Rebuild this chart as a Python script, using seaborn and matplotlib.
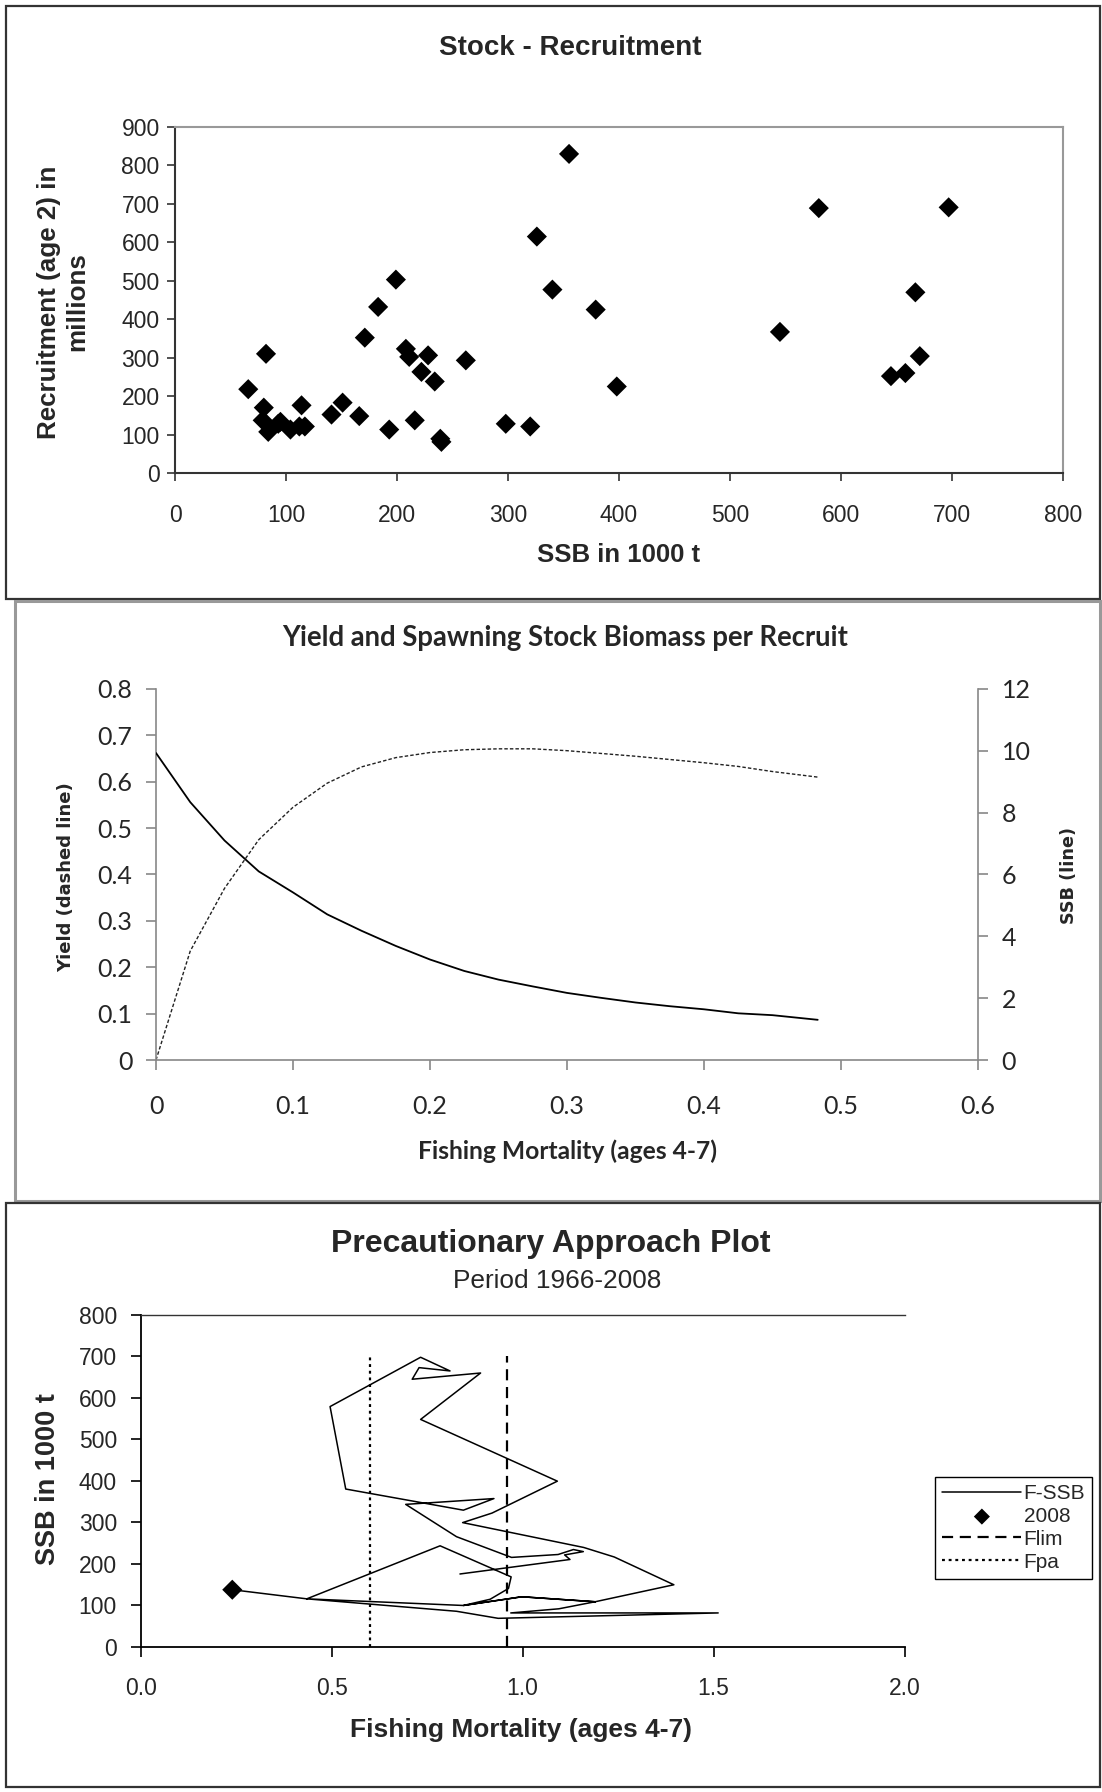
import matplotlib
matplotlib.use("Agg")
import matplotlib.pyplot as plt
import pandas as pd
import seaborn as sns
from matplotlib.patches import Rectangle

# Stock - Recruitment (SSB in 1000 t, recruitment age 2 in millions)
SR_SSB = [66, 82, 80, 79, 84, 93, 95, 104, 114, 112, 117, 141, 151, 166, 171,
          183, 193, 199, 208, 211, 216, 222, 228, 234, 239, 240, 262, 298, 320,
          326, 340, 355, 379, 398, 545, 580, 645, 658, 667, 671, 697]
SR_REC = [218, 310, 170, 137, 107, 128, 133, 113, 176, 121, 121, 152, 183, 148,
          352, 432, 113, 503, 323, 302, 137, 263, 306, 238, 89, 81, 293, 128,
          121, 615, 477, 830, 425, 225, 367, 689, 252, 260, 470, 304, 691]

# Yield and SSB per recruit
YPR_F = [0, 0.025, 0.05, 0.075, 0.1, 0.125, 0.15, 0.175, 0.2, 0.225, 0.25,
         0.275, 0.3, 0.325, 0.35, 0.375, 0.4, 0.425, 0.45, 0.483]
YPR_YIELD = [0, 0.235, 0.37, 0.475, 0.545, 0.597, 0.632, 0.652, 0.663, 0.669,
             0.671, 0.671, 0.667, 0.661, 0.655, 0.648, 0.641, 0.633, 0.622, 0.61]
YPR_SSB = [9.93, 8.34, 7.1, 6.1, 5.42, 4.71, 4.18, 3.69, 3.25, 2.88, 2.6, 2.38,
           2.17, 2.01, 1.86, 1.74, 1.64, 1.51, 1.45, 1.3]

# Precautionary approach plot, 1966-2008
PA_F = [0.836, 1.124, 1.11, 1.159, 1.133, 1.093, 0.971, 0.827, 0.694, 0.925,
        0.845, 0.537, 0.496, 0.733, 0.81, 0.729, 0.711, 0.89, 0.733, 1.091,
        0.92, 0.843, 1.16, 1.24, 1.396, 1.19, 1.095, 0.969, 1.512, 0.936,
        0.827, 0.435, 0.845, 0.998, 1.19, 0.998, 0.845, 0.915, 0.963, 0.97,
        0.784, 0.435, 0.24]
PA_SSB = [175, 210, 221, 229, 234, 222, 215, 265, 343, 357, 329, 380, 579, 698,
          665, 673, 645, 660, 548, 399, 322, 299, 239, 216, 149, 108, 91, 81, 81,
          68, 85, 115, 99, 120, 108, 120, 99, 114, 140, 168, 243, 115, 137]
PA_2008_F = [0.24]
PA_2008_SSB = [137]
FLIM = 0.96
FPA = 0.6
REF_SSB = [0, 700]

ARIAL = ["Liberation Sans", "DejaVu Sans"]
CALIBRI = ["Lato", "DejaVu Sans"]
W, H = 1102, 1792


def fx(px):
    return px / W


def fy(py):
    return 1 - py / H


def rect(x0, x1, y_top, y_bot):
    return [fx(x0), fy(y_bot), (x1 - x0) / W, (y_bot - y_top) / H]


sns.set_theme(style="white")
plt.rcParams["font.family"] = ARIAL
plt.rcParams["axes.linewidth"] = 1.2

fig = plt.figure(figsize=(W / 100, H / 100), dpi=100)
fig.patch.set_facecolor("white")

# panel frames
for (x0, y0, x1, y1, col, lw) in [(6, 6, 1100, 599, "#333333", 1.6),
                                  (15, 601, 1100, 1201, "#999999", 2.2),
                                  (6, 1203, 1100, 1787, "#333333", 1.6)]:
    fig.add_artist(Rectangle((fx(x0), fy(y1)), (x1 - x0) / W, (y1 - y0) / H,
                             transform=fig.transFigure, fill=False,
                             edgecolor=col, linewidth=lw))

# ---- Panel 1: Stock - Recruitment
ax1 = fig.add_axes(rect(175, 1063, 127, 473))
sns.scatterplot(x=SR_SSB, y=SR_REC, marker="D", color="black", s=105,
                edgecolor="none", ax=ax1)
ax1.set_xlim(0, 800)
ax1.set_ylim(0, 900)
ax1.set_xticks(range(0, 801, 100))
ax1.set_yticks(range(0, 901, 100))
for side in ("left", "bottom"):
    ax1.spines[side].set_color("#333333")
    ax1.spines[side].set_linewidth(1.5)
for side in ("top", "right"):
    ax1.spines[side].set_color("#999999")
    ax1.spines[side].set_linewidth(1.5)
ax1.tick_params(axis="both", direction="out", length=6, width=1.2,
                color="#333333", labelsize=16.5, bottom=True, left=True)
ax1.tick_params(axis="x", pad=16)
ax1.tick_params(axis="y", pad=5)
ax1.set_xlabel("")
ax1.set_ylabel("")
fig.text(fx(570), fy(48), "Stock - Recruitment", ha="center", va="center",
         fontsize=20, fontweight="bold")
fig.text(fx(619), fy(555), "SSB in 1000 t", ha="center", va="center",
         fontsize=18.5, fontweight="bold")
fig.text(fx(63), fy(302), "Recruitment (age 2) in\nmillions", ha="center",
         va="center", rotation=90, fontsize=18.7, fontweight="bold",
         linespacing=1.2)

# ---- Panel 2: Yield and SSB per recruit
ax2 = fig.add_axes(rect(156, 978, 689, 1060))
ax2r = ax2.twinx()
sns.lineplot(x=YPR_F, y=YPR_YIELD, ax=ax2, color="#222222", linewidth=1.0,
             linestyle=(0, (2.5, 1.5)))
sns.lineplot(x=YPR_F, y=YPR_SSB, ax=ax2r, color="black", linewidth=1.3)
ax2.set_xlim(0, 0.6)
ax2.set_ylim(0, 0.8)
ax2r.set_ylim(0, 12)
xt = [0, 0.1, 0.2, 0.3, 0.4, 0.5, 0.6]
ax2.set_xticks(xt, labels=["0", "0.1", "0.2", "0.3", "0.4", "0.5", "0.6"])
yt = [0, 0.1, 0.2, 0.3, 0.4, 0.5, 0.6, 0.7, 0.8]
ax2.set_yticks(yt, labels=["0"] + [f"{v:.1f}" for v in yt[1:]])
ax2r.set_yticks(range(0, 13, 2))
for a in (ax2, ax2r):
    for s in a.spines.values():
        s.set_visible(False)
    a.set_xlabel("")
    a.set_ylabel("")
for side in ("left", "bottom"):
    ax2.spines[side].set_visible(True)
    ax2.spines[side].set_color("#888888")
    ax2.spines[side].set_linewidth(1.2)
ax2r.spines["right"].set_visible(True)
ax2r.spines["right"].set_color("#888888")
ax2r.spines["right"].set_linewidth(1.2)
ax2.tick_params(axis="both", direction="out", length=7, width=1.2,
                color="#888888", labelsize=18, bottom=True, left=True)
ax2.tick_params(axis="x", pad=18)
ax2.tick_params(axis="y", pad=10)
ax2r.tick_params(axis="y", direction="out", length=7, width=1.2,
                 color="#888888", labelsize=18, right=True, pad=10)
for lbl in ax2.get_xticklabels() + ax2.get_yticklabels() + ax2r.get_yticklabels():
    lbl.set_fontfamily(CALIBRI)
fig.text(fx(565), fy(638), "Yield and Spawning Stock Biomass per Recruit",
         ha="center", va="center", fontsize=19.8, fontweight="bold",
         family=CALIBRI)
fig.text(fx(567), fy(1151), "Fishing Mortality (ages 4-7)", ha="center",
         va="center", fontsize=17.7, fontweight="bold", family=CALIBRI)
fig.text(fx(66), fy(877), "Yield (dashed line)", ha="center", va="center",
         rotation=90, fontsize=13, fontweight="bold", family="DejaVu Sans")
fig.text(fx(1069), fy(875), "SSB (line)", ha="center", va="center",
         rotation=90, fontsize=12.7, fontweight="bold", family="DejaVu Sans")

# ---- Panel 3: Precautionary approach plot
ax3 = fig.add_axes(rect(140.6, 904.6, 1315, 1646.5))
sns.lineplot(x=PA_F, y=PA_SSB, sort=False, estimator=None, color="black",
             linewidth=1.1, ax=ax3, label="F-SSB")
sns.scatterplot(x=PA_2008_F, y=PA_2008_SSB, marker="D", s=105, color="black",
                edgecolor="none", ax=ax3, label="2008")
sns.lineplot(x=[FLIM, FLIM], y=REF_SSB, sort=False, estimator=None,
             color="black", linewidth=1.6, linestyle=(0, (5, 3)), ax=ax3,
             label="Flim")
sns.lineplot(x=[FPA, FPA], y=REF_SSB, sort=False, estimator=None,
             color="black", linewidth=1.6, linestyle=(0, (1.3, 1.7)), ax=ax3,
             label="Fpa")
ax3.set_xlim(0, 2.0)
ax3.set_ylim(0, 800)
ax3.set_xticks([0, 0.5, 1.0, 1.5, 2.0], labels=["0.0", "0.5", "1.0", "1.5", "2.0"])
ax3.set_yticks(range(0, 801, 100))
ax3.spines["right"].set_visible(False)
for side in ("left", "bottom"):
    ax3.spines[side].set_color("black")
    ax3.spines[side].set_linewidth(1.3)
ax3.spines["top"].set_color("#333333")
ax3.spines["top"].set_linewidth(1.0)
ax3.tick_params(axis="both", direction="out", length=7, width=1.2,
                color="black", labelsize=16.5, bottom=True, left=True)
ax3.tick_params(axis="x", pad=15)
ax3.tick_params(axis="y", pad=10)
ax3.set_xlabel("")
ax3.set_ylabel("")
handles, labels = ax3.get_legend_handles_labels()
order = ["F-SSB", "2008", "Flim", "Fpa"]
hmap = dict(zip(labels, handles))
leg = ax3.legend([hmap[k] for k in order], order, loc="upper left",
                 bbox_to_anchor=(fx(935), fy(1477)),
                 bbox_transform=fig.transFigure, frameon=True, fancybox=False,
                 edgecolor="black", fontsize=15, handlelength=3.8,
                 handletextpad=0.1, borderpad=0.35, labelspacing=0.18,
                 borderaxespad=0, framealpha=1, markerscale=0.8)
leg.get_frame().set_linewidth(1.0)
fig.text(fx(551), fy(1244), "Precautionary Approach Plot", ha="center",
         va="center", fontsize=23, fontweight="bold")
fig.text(fx(557), fy(1281), "Period 1966-2008", ha="center", va="center",
         fontsize=18.9)
fig.text(fx(521), fy(1730), "Fishing Mortality (ages 4-7)", ha="center",
         va="center", fontsize=19, fontweight="bold")
fig.text(fx(48), fy(1479), "SSB in 1000 t", ha="center", va="center",
         rotation=90, fontsize=19.5, fontweight="bold")

fig.savefig("out.png", dpi=100, facecolor="white")
